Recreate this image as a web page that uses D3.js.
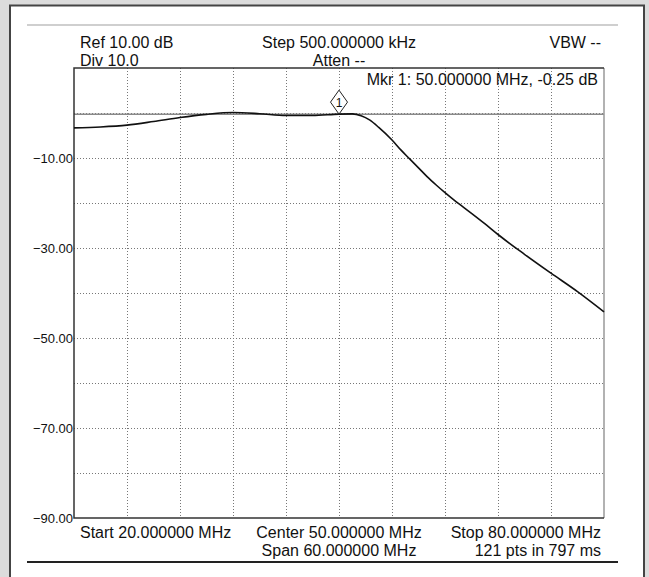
<!DOCTYPE html>
<html>
<head>
<meta charset="utf-8">
<script src="https://cdn.jsdelivr.net/npm/d3@7"></script>
<style>
  body { margin: 0; background: #dcdcdc; }
  svg text { font-family: "Liberation Sans", Arial, sans-serif; fill: #111; }
</style>
</head>
<body>
<script>
// trace data (MHz, dB)
var freqs = [20, 23, 26, 29, 32, 35, 38, 41, 44, 47, 50, 51.5, 52.5, 53.5, 54.5, 56, 57, 58, 59, 60, 61, 62, 63, 64, 65, 66.5, 68, 71, 74, 77, 80];
var levels = [-3.3, -3.1, -2.7, -1.9, -1.0, -0.3, 0.1, -0.15, -0.55, -0.55, -0.25, -0.2, -0.6, -1.6, -3.2, -6.0, -8.2, -10.2, -12.2, -14.2, -16.0, -17.7, -19.3, -20.8, -22.3, -24.6, -27.0, -31.4, -35.6, -39.7, -44.2];

var xGrid = [26, 32, 38, 44, 50, 56, 62, 68, 74];
var yGrid = [0, -10, -20, -30, -40, -50, -60, -70, -80];
var yLabels = [-10, -30, -50, -70, -90];

var marker = {freq: 50, level: -0.25, name: "1"};

var W = 649, H = 577;
var margin = {top: 68, right: 45, bottom: 59, left: 74},
    width = W - margin.left - margin.right,
    height = H - margin.top - margin.bottom;

var x = d3.scaleLinear().domain([20, 80]).range([0, width]);
var y = d3.scaleLinear().domain([-90, 10]).range([height, 0]);

var svg = d3.select("body").append("svg")
    .attr("width", W)
    .attr("height", H);

// white panel with dark frame
svg.append("rect")
    .attr("x", 10).attr("y", 5.5)
    .attr("width", 634).attr("height", 600)
    .attr("fill", "#fff")
    .attr("stroke", "#444")
    .attr("stroke-width", 2);

svg.append("line")
    .attr("x1", 27).attr("x2", 618).attr("y1", 25).attr("y2", 25)
    .attr("stroke", "#cfcfcf").attr("stroke-width", 2);
svg.append("line")
    .attr("x1", 27).attr("x2", 618).attr("y1", 562).attr("y2", 562)
    .attr("stroke", "#222").attr("stroke-width", 2);

var g = svg.append("g")
    .attr("transform", "translate(" + margin.left + "," + margin.top + ")");

// dotted grid
g.selectAll(".vgrid").data(xGrid).enter().append("line")
    .attr("class", "vgrid")
    .attr("x1", function (d) { return Math.round(x(d)) + 0.5; })
    .attr("x2", function (d) { return Math.round(x(d)) + 0.5; })
    .attr("y1", 0).attr("y2", height)
    .attr("stroke", "#777").attr("stroke-dasharray", "1,2");

g.selectAll(".hgrid").data(yGrid).enter().append("line")
    .attr("class", "hgrid")
    .attr("y1", function (d) { return Math.round(y(d)) + 0.5; })
    .attr("y2", function (d) { return Math.round(y(d)) + 0.5; })
    .attr("x1", 0).attr("x2", width)
    .attr("stroke", "#777").attr("stroke-dasharray", "1,2");

// marker display line
g.append("line")
    .attr("x1", 0).attr("x2", width)
    .attr("y1", y(marker.level)).attr("y2", y(marker.level))
    .attr("stroke", "#8a8a8a").attr("stroke-width", 1.5);

// plot frame
g.append("line").attr("x1", width).attr("x2", width).attr("y1", 0).attr("y2", height)
    .attr("stroke", "#999").attr("stroke-width", 1.5);
g.append("path")
    .attr("d", "M" + width + ",0H0V" + height + "H" + width)
    .attr("fill", "none").attr("stroke", "#333").attr("stroke-width", 1.5);

// trace
var line = d3.line()
    .x(function (d, i) { return x(freqs[i]); })
    .y(function (d) { return y(d); })
    .curve(d3.curveMonotoneX);

g.append("path")
    .datum(levels)
    .attr("d", line)
    .attr("fill", "none")
    .attr("stroke", "#111")
    .attr("stroke-width", 1.6);

// marker diamond
var mx = x(marker.freq), my = y(marker.level);
g.append("path")
    .attr("d", "M" + mx + "," + my + "l8.5,-12l-8.5,-12l-8.5,12z")
    .attr("fill", "#fff").attr("stroke", "#222").attr("stroke-width", 1);
g.append("text")
    .attr("x", mx).attr("y", my - 7.5)
    .attr("text-anchor", "middle")
    .style("font-size", "12px")
    .text(marker.name);

// y labels
var yAxis = d3.axisLeft(y).tickValues(yLabels).tickSize(0).tickPadding(1)
    .tickFormat(d3.format(".2f"));
g.append("g").call(yAxis)
    .call(function (a) { a.select(".domain").remove(); })
    .selectAll("text")
    .style("font-size", "13px")
    .style("font-family", "'Liberation Sans', Arial, sans-serif")
    .attr("fill", "#111");

// header and footer texts
function label(tx, ty, anchor, str) {
    svg.append("text")
        .attr("x", tx).attr("y", ty)
        .attr("text-anchor", anchor)
        .style("font-size", "16px")
        .text(str);
}
var cx = margin.left + width / 2;
label(80, 48, "start", "Ref 10.00 dB");
label(80, 66, "start", "Div 10.0");
label(cx, 48, "middle", "Step 500.000000 kHz");
label(cx, 66, "middle", "Atten --");
label(601, 48, "end", "VBW --");
label(598, 85, "end", "Mkr 1: 50.000000 MHz, -0.25 dB");

label(80, 538, "start", "Start 20.000000 MHz");
label(cx, 538, "middle", "Center 50.000000 MHz");
label(cx, 556, "middle", "Span 60.000000 MHz");
label(601, 538, "end", "Stop 80.000000 MHz");
label(601, 556, "end", "121 pts in 797 ms");
</script>
</body>
</html>
